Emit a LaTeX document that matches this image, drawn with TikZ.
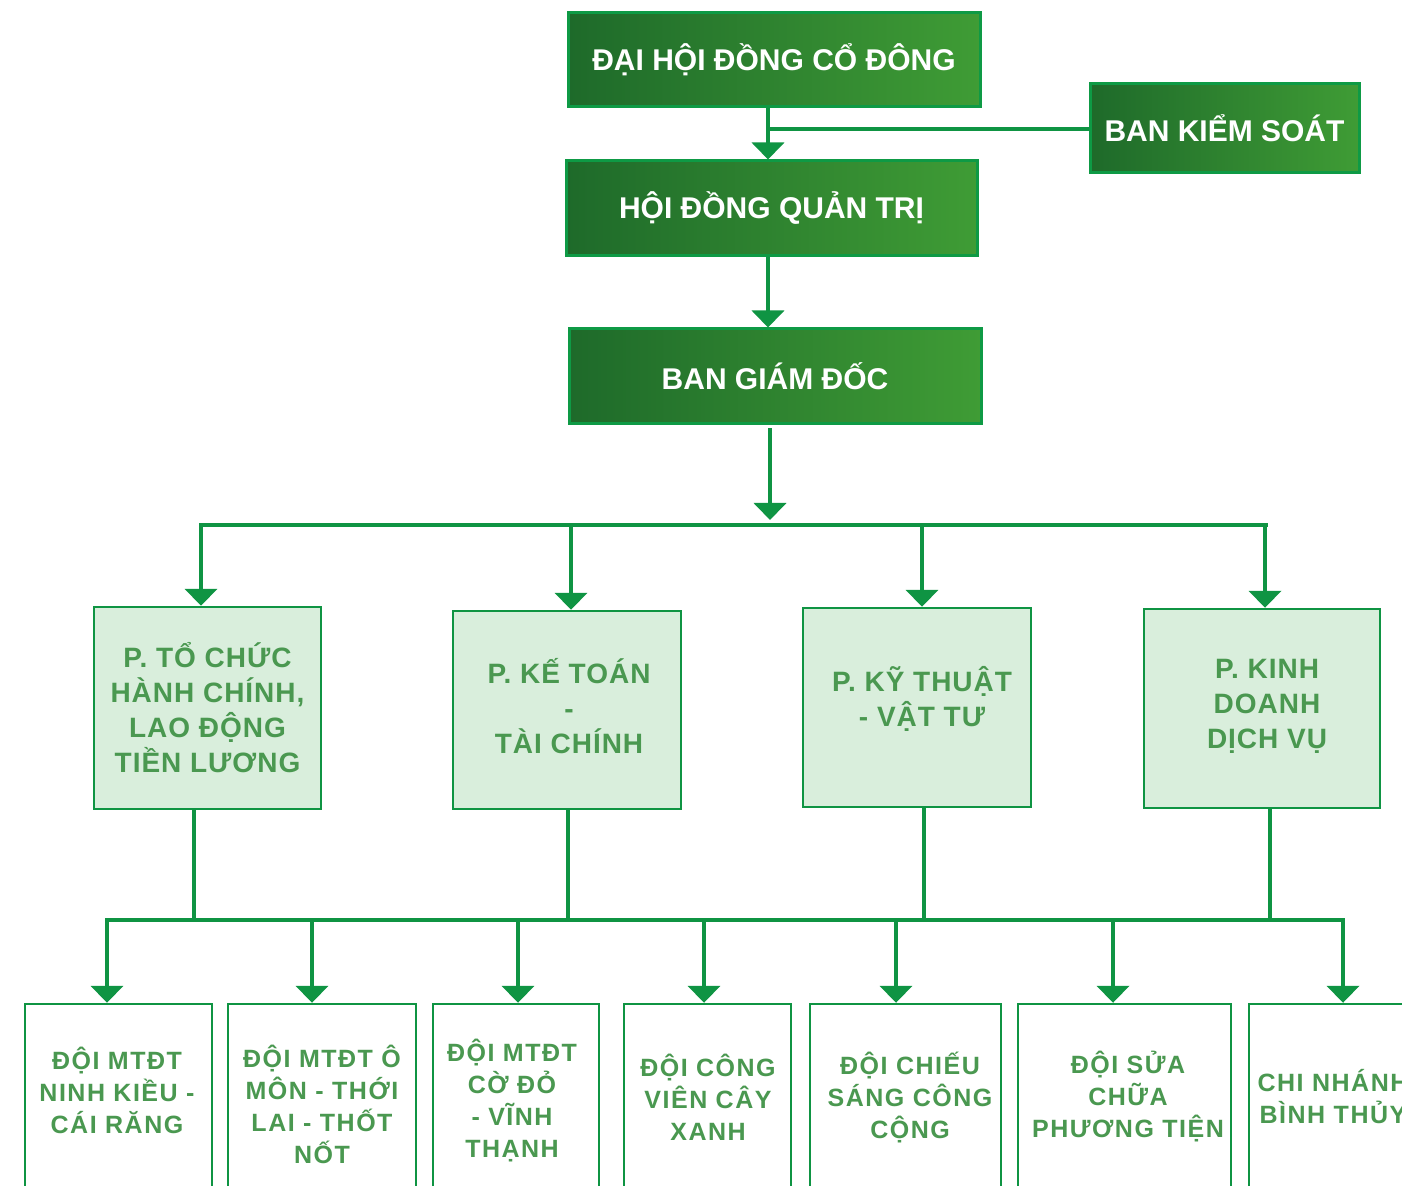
\documentclass[tikz,border=0pt]{standalone}
\usepackage{fontspec}
\setmainfont{Liberation Sans}
\newfontfamily\midfont{Liberation Sans}[LetterSpace=3.5]
\newfontfamily\botfont{Liberation Sans}[LetterSpace=6]
\usetikzlibrary{arrows.meta}
\definecolor{ln}{HTML}{0F9443}
\definecolor{tborder}{HTML}{0E9A45}
\definecolor{tgA}{HTML}{1E6A2A}
\definecolor{tgB}{HTML}{3F9C35}
\definecolor{midfill}{HTML}{D9EEDC}
\definecolor{midtext}{HTML}{4A9850}
\begin{document}
\begin{tikzpicture}[x=0.5pt,y=-0.5pt,
  topbox/.style={draw=tborder, line width=1.5pt, left color=tgA, right color=tgB, text=white,
    font=\bfseries\fontsize{15}{18}\selectfont, inner sep=0pt},
  midbox/.style={draw=ln, line width=1.2pt, fill=midfill, text=midtext,
    font=\midfont\bfseries\fontsize{14}{17.5}\selectfont, align=center, inner sep=0pt},
  midtxt/.style={text=midtext, font=\midfont\bfseries\fontsize{14}{17.5}\selectfont, align=center, inner sep=0pt},
  botbox/.style={draw=ln, line width=1.2pt, fill=white, inner sep=0pt},
  bottxt/.style={text=midtext, font=\botfont\bfseries\fontsize{12.5}{16}\selectfont, align=center, inner sep=0pt},
  conn/.style={draw=ln, line width=2pt},
  arr/.style={conn, -{Triangle[width=16pt,length=8.5pt]}},
]
\path[use as bounding box, clip] (0,0) rectangle (1402,1186);
\fill[white] (0,0) rectangle (1402,1186);

% top level
\node[topbox, minimum width=206pt, minimum height=47pt] (dh) at (774,60) {ĐẠI HỘI ĐỒNG CỔ ĐÔNG};
\node[topbox, minimum width=134.5pt, minimum height=44.5pt] (bks) at (1224.5,128.5) {BAN KIỂM SOÁT};
\node[topbox, minimum width=205.5pt, minimum height=47.5pt] (hd) at (771.5,208.5) {HỘI ĐỒNG QUẢN TRỊ};
\node[topbox, minimum width=206pt, minimum height=47.5pt] (bgd) at (775,376.5) {BAN GIÁM ĐỐC};

\coordinate (c1) at (768,129);
\draw[arr] (dh.south -| c1) -- (hd.north -| c1);
\draw[conn] (bks.west |- c1) -- (c1);
\draw[arr] (hd.south -| c1) -- (bgd.north -| c1);

% upper bus
\coordinate (ub) at (770,525);
\coordinate (ubL) at (201,525);
\coordinate (ubR) at (1266,525);
\coordinate (ubT) at (770,520);
\draw[arr, shorten <=1.5pt] (bgd.south -| ub) -- (ubT);
\draw[conn, line cap=rect] (ubL) -- (ubR);

% middle level
\node[midbox, minimum width=113.5pt, minimum height=101pt] (m1) at (207.5,708) {P. TỔ CHỨC\\HÀNH CHÍNH,\\LAO ĐỘNG\\TIỀN LƯƠNG};
\node[midbox, minimum width=114pt, minimum height=99pt] (m2) at (567,710) {};
\node[midtxt] (m2t) at (569,706) {P. KẾ TOÁN\\-\\TÀI CHÍNH};
\node[midbox, minimum width=114pt, minimum height=99.5pt] (m3) at (917,707.5) {};
\node[midtxt] (m3t) at (922,699) {P. KỸ THUẬT\\- VẬT TƯ};
\node[midbox, minimum width=118pt, minimum height=99.5pt] (m4) at (1262,708.5) {};
\node[midtxt] (m4t) at (1267,706) {P. KINH\\DOANH\\DỊCH VỤ};

\coordinate (d1) at (201,525);
\coordinate (d2) at (571,525);
\coordinate (d3) at (922,525);
\coordinate (d4) at (1265,525);
\draw[arr] (d1) -- (m1.north -| d1);
\draw[arr] (d2) -- (m2.north -| d2);
\draw[arr] (d3) -- (m3.north -| d3);
\draw[arr] (d4) -- (m4.north -| d4);

% lower bus
\coordinate (lbL) at (107,920);
\coordinate (lbR) at (1343,920);
\draw[conn, line cap=rect] (lbL) -- (lbR);
\coordinate (u1) at (194,920);
\coordinate (u2) at (568,920);
\coordinate (u3) at (924,920);
\coordinate (u4) at (1270,920);
\draw[conn] (m1.south -| u1) -- (u1);
\draw[conn] (m2.south -| u2) -- (u2);
\draw[conn] (m3.south -| u3) -- (u3);
\draw[conn] (m4.south -| u4) -- (u4);

% bottom level
\node[botbox, minimum width=93.5pt, minimum height=123pt] (b1) at (118.5,1127) {};
\node[botbox, minimum width=94pt, minimum height=123pt] (b2) at (322,1127) {};
\node[botbox, minimum width=83pt, minimum height=123pt] (b3) at (516,1127) {};
\node[botbox, minimum width=83.5pt, minimum height=123pt] (b4) at (707.5,1127) {};
\node[botbox, minimum width=95.5pt, minimum height=123pt] (b5) at (905.5,1127) {};
\node[botbox, minimum width=106.5pt, minimum height=123pt] (b6) at (1124.5,1127) {};
\node[botbox, minimum width=115.5pt, minimum height=123pt] (b7) at (1364.5,1127) {};

\node[bottxt] (t1) at (117,1090) {ĐỘI MTĐT\\NINH KIỀU -\\CÁI RĂNG};
\node[bottxt] (t2) at (322,1104) {ĐỘI MTĐT Ô\\MÔN - THỚI\\LAI - THỐT\\NỐT};
\node[bottxt] (t3) at (512,1101) {ĐỘI MTĐT\\CỜ ĐỎ\\- VĨNH\\THẠNH};
\node[bottxt] (t4) at (708,1097) {ĐỘI CÔNG\\VIÊN CÂY\\XANH};
\node[bottxt] (t5) at (910,1098) {ĐỘI CHIẾU\\SÁNG CÔNG\\CỘNG};
\node[bottxt] (t6) at (1128,1097) {ĐỘI SỬA\\CHỮA\\PHƯƠNG TIỆN};
\node[bottxt] (t7) at (1333,1097) {CHI NHÁNH\\BÌNH THỦY};

\coordinate (e1) at (107,920);
\coordinate (e2) at (312,920);
\coordinate (e3) at (518,920);
\coordinate (e4) at (704,920);
\coordinate (e5) at (896,920);
\coordinate (e6) at (1113,920);
\coordinate (e7) at (1343,920);
\draw[arr] (e1) -- (b1.north -| e1);
\draw[arr] (e2) -- (b2.north -| e2);
\draw[arr] (e3) -- (b3.north -| e3);
\draw[arr] (e4) -- (b4.north -| e4);
\draw[arr] (e5) -- (b5.north -| e5);
\draw[arr] (e6) -- (b6.north -| e6);
\draw[arr] (e7) -- (b7.north -| e7);
\end{tikzpicture}
\end{document}
